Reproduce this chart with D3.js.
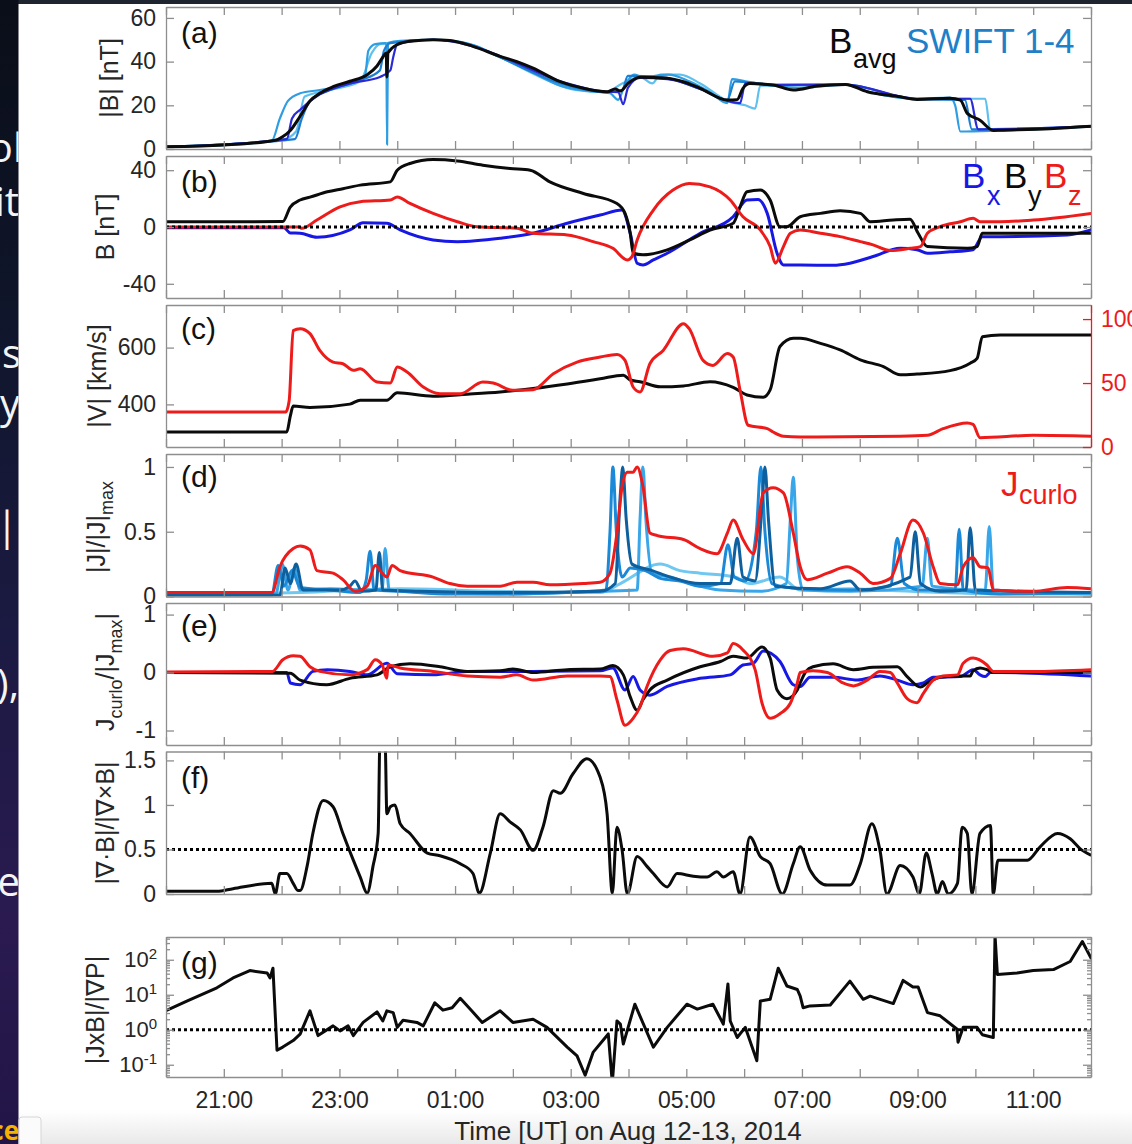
<!DOCTYPE html>
<html>
<head>
<meta charset="utf-8">
<script src="https://cdn.jsdelivr.net/npm/d3@7"></script>
<style>
  html, body { margin: 0; padding: 0; background: #fff; }
  svg { display: block; }
</style>
</head>
<body>
<svg id="chart" width="1132" height="1144"></svg>
<script>
// Time axis: hours after 20:00 UT on Aug 12, 2014 (0 ... 16  ->  20:00 ... 12:00 on Aug 13)

// ---------- (a) |B| [nT] ----------
const bAvg = [[0,1.0],[1.0,1.8],[1.89,4.0],[2.01,5.5],[2.15,8.5],[2.32,15],[2.49,22],[2.66,25.5],[2.89,28.5],[3.18,31],[3.48,34],[3.65,38],[3.75,42],[3.81,44],[3.82,33],[3.84,44],[4.0,47.8],[4.22,49.3],[4.62,50],[4.91,49.7],[5.31,47],[5.78,42.4],[6.07,40],[6.35,37],[6.82,30.8],[7.22,27.8],[7.63,26.2],[7.77,27.5],[7.86,26.5],[7.99,30],[8.2,32.9],[8.67,32.4],[8.95,30.8],[9.24,27.8],[9.71,22.4],[9.88,22.6],[9.98,27.8],[10.1,30],[10.5,29.3],[10.85,27],[11.26,28.8],[11.75,29.5],[12.13,26.2],[12.7,23.9],[12.99,22.7],[13.56,23.2],[13.74,22.4],[13.86,16.3],[14.08,13.2],[14.31,8.5],[14.43,8.6],[15.29,9.3],[16,10.4]];
const swiftB1 = [[0,1.0],[2.09,4.5],[2.18,14],[2.32,18],[2.66,25],[3.18,30],[3.7,33],[3.88,36],[3.93,42],[4.0,48],[4.62,50],[5.31,47],[5.78,42.5],[6.82,31],[7.63,26.2],[7.82,26],[7.91,20.5],[7.99,28],[8.2,32.5],[8.67,32],[9.24,27.5],[9.71,22],[9.93,21],[10.02,30],[10.5,29.3],[11.75,29.5],[12.99,23],[13.91,23],[14.05,9],[16,10.4]];
const swiftB2 = [[0,1.0],[2.23,4.5],[2.35,14],[2.49,22],[2.84,27],[3.36,31.5],[3.7,36],[3.77,45],[3.88,48.5],[4.62,50],[5.31,47.5],[5.78,42],[6.82,30],[7.63,26],[7.89,27],[7.99,33.5],[8.55,33],[9.24,27.5],[9.71,22.5],[9.84,31],[10.5,29.5],[11.75,29.5],[12.99,22.7],[13.82,22.5],[13.94,9],[16,10.4]];
const swiftB3 = [[0,1.0],[1.0,1.8],[1.83,3.8],[1.97,14],[2.11,22],[2.32,25.5],[2.66,27],[3.18,30],[3.44,33],[3.5,45],[3.62,48],[3.81,48.5],[3.824,2],[3.84,48.5],[4.05,49.5],[4.62,50],[5.09,49],[5.78,42],[6.35,35],[6.82,29],[7.34,26.5],[7.68,25.5],[7.82,22.5],[7.92,28],[8.1,34],[8.24,33],[8.69,34],[9.05,31],[9.41,26],[9.71,21],[9.79,32],[10.02,31],[10.5,29],[10.97,28],[11.75,29.5],[12.18,26],[12.99,23],[13.56,23.5],[13.65,20],[13.74,8],[14.43,8.5],[16,10.4]];
const swiftB4 = [[0,1.0],[2.01,4.2],[2.25,8],[2.4,24],[2.84,27],[3.36,31],[3.56,44],[3.7,48],[4.62,50],[5.26,48],[5.78,42],[6.47,33],[7.08,27],[7.6,26],[7.89,30],[8.2,33],[8.41,30],[8.55,34],[8.89,34],[9.24,30],[9.71,22],[10.02,20],[10.19,18.5],[10.28,29],[10.62,29],[11.75,29.5],[12.18,26],[12.99,23],[14.17,23],[14.26,8.5],[16,10.4]];

// ---------- (b) B components [nT] ----------
const bx = [[0,-0.5],[2.04,-0.5],[2.15,-4.2],[2.32,-4.4],[2.61,-7.2],[3.18,-2.1],[3.41,3],[3.82,2.6],[4.05,-2.1],[4.62,-9.1],[5.04,-10.3],[5.78,-7.9],[6.35,-4.4],[6.94,2.6],[7.51,8.4],[7.89,11.9],[8.03,-4.4],[8.15,-25.5],[8.25,-26.7],[8.43,-23.2],[8.67,-18.5],[9.24,-4.4],[9.81,7.2],[10.05,19],[10.24,19.4],[10.4,9.6],[10.57,-18.5],[10.68,-26.7],[10.97,-26.7],[11.54,-27],[11.83,-25.5],[12.23,-20.8],[12.7,-15],[12.99,-16],[13.17,-18.5],[13.56,-17.5],[13.96,-16],[14.12,-6.8],[14.43,-6.8],[15.59,-5.6],[16,-2.1]];
const by = [[0,3.7],[2.02,3.8],[2.15,14],[2.32,19],[2.49,21],[2.79,24.8],[3.06,27],[3.36,29.5],[3.88,31.8],[4.0,40],[4.22,44.7],[4.62,47.5],[5.04,46.5],[5.48,43.5],[5.95,41.2],[6.3,40],[6.64,31.8],[7.22,23.6],[7.8,16.6],[7.94,9.6],[8.03,-4.4],[8.08,-18.5],[8.25,-19.6],[8.67,-16.1],[9.06,-9.1],[9.41,-2.1],[9.81,2.6],[9.93,14.2],[10.05,24.8],[10.28,26],[10.45,19],[10.62,0.2],[10.74,0.2],[10.97,7.2],[11.32,9.6],[11.66,11.4],[12.01,9.6],[12.18,3.7],[12.58,4.9],[12.87,5.4],[13.01,-4.4],[13.17,-13.8],[13.86,-15],[14.03,-13.8],[14.12,-4.4],[14.43,-4.4],[16,-4.4]];
const bz = [[0,0],[2.3,0],[2.35,-0.9],[2.61,4.9],[3.01,14.2],[3.36,17.8],[3.88,19],[4.0,21.2],[4.22,16.6],[4.62,9.6],[5.04,3.7],[5.38,0.2],[6.07,-0.9],[6.35,-4.4],[6.94,-5.6],[7.39,-10.3],[7.73,-15],[7.98,-23.2],[8.06,-20.8],[8.15,-9.1],[8.43,11.9],[8.77,26],[9.05,30.7],[9.41,28.3],[9.76,19],[9.98,7.2],[10.28,-2.1],[10.45,-13.8],[10.54,-25.5],[10.68,-13.8],[10.8,-4.4],[10.97,-2.1],[11.32,-4.4],[11.66,-6.8],[12.01,-10.3],[12.23,-12.6],[12.53,-16.6],[12.87,-15],[13.05,-13.8],[13.17,-4.4],[13.39,0.2],[13.74,3.7],[13.96,6.1],[14.08,3.7],[14.43,3.7],[15.0,4.9],[16,9.6]];

// ---------- (c) |V| [km/s] (left) and red series on the right axis ----------
const speed = [[0,303],[2.09,303],[2.15,359],[2.2,394],[2.49,389],[3.18,401],[3.36,415],[3.82,415],[4.0,441],[4.62,429],[5.21,436],[5.78,444],[6.35,456],[6.94,472],[7.51,490],[7.91,503],[8.03,486],[8.2,480],[8.55,462],[8.95,465],[9.41,480],[9.81,460],[10.05,433],[10.33,425],[10.45,451],[10.62,604],[10.85,633],[10.97,633],[11.32,615],[11.66,592],[12.01,557],[12.41,533],[12.7,504],[12.99,507],[13.56,519],[13.91,545],[14.03,562],[14.12,638],[14.43,644],[16,644]];
const rightSeries = [[0,27.3],[2.07,27.3],[2.13,36],[2.2,91],[2.32,92.5],[2.49,88.6],[2.66,75.5],[2.89,66.4],[3.06,65.1],[3.24,59.9],[3.36,61.2],[3.65,50.8],[3.88,50],[4.0,62.5],[4.17,58.6],[4.45,46.9],[4.74,41.7],[5.09,41.7],[5.48,50.8],[5.66,50],[6.0,44.3],[6.35,44.8],[6.7,57.3],[7.11,66.4],[7.51,70.3],[7.8,72.4],[7.94,67.7],[8.08,46.9],[8.2,43],[8.37,65.1],[8.6,75.5],[8.95,96.4],[9.05,92.5],[9.29,67.7],[9.46,63.8],[9.71,73],[9.81,70.3],[9.93,44.3],[10.07,17],[10.4,14.3],[10.5,11.7],[10.68,8.4],[10.97,7.8],[12.7,8.4],[13.17,9.1],[13.44,14.3],[13.86,18.8],[13.96,17.7],[14.08,7.3],[15.0,9.1],[16,8.4]];

// ---------- (d) |J|/|J|max ----------
const jCurlo = [[0,0.03],[1.83,0.03],[1.97,0.23],[2.2,0.37],[2.32,0.39],[2.49,0.36],[2.61,0.2],[2.89,0.18],[3.06,0.13],[3.27,0.04],[3.48,0.08],[3.62,0.24],[3.74,0.18],[3.82,0.15],[3.91,0.24],[4.05,0.2],[4.62,0.15],[4.91,0.1],[5.21,0.08],[5.78,0.08],[6.07,0.11],[6.35,0.11],[6.64,0.09],[7.22,0.1],[7.51,0.11],[7.68,0.18],[7.8,0.49],[7.89,0.85],[7.98,0.96],[8.08,0.96],[8.15,1.0],[8.25,0.85],[8.37,0.49],[8.5,0.47],[8.95,0.44],[9.24,0.37],[9.53,0.33],[9.71,0.49],[9.81,0.59],[9.98,0.44],[10.16,0.33],[10.33,0.8],[10.5,0.84],[10.68,0.8],[10.85,0.49],[10.97,0.23],[11.09,0.13],[11.44,0.18],[11.78,0.23],[12.01,0.18],[12.23,0.1],[12.53,0.14],[12.7,0.33],[12.92,0.59],[13.1,0.49],[13.27,0.23],[13.39,0.1],[13.69,0.09],[13.79,0.23],[13.96,0.3],[14.08,0.23],[14.22,0.22],[14.31,0.05],[15.0,0.04],[15.59,0.07],[16,0.06]];
const jSwift1 = [[0,0.01],[1.83,0.01],[1.94,0.24],[2.04,0.08],[2.18,0.2],[2.32,0.07],[2.84,0.05],[3.36,0.03],[3.46,0.12],[3.53,0.35],[3.6,0.05],[4.05,0.04],[4.91,0.02],[5.78,0.02],[6.82,0.03],[7.61,0.05],[7.68,0.5],[7.73,1.0],[7.79,0.5],[7.89,0.15],[8.03,0.22],[8.29,0.2],[8.55,0.14],[8.89,0.12],[9.24,0.08],[9.59,0.1],[9.72,0.4],[9.83,0.15],[10.02,0.12],[10.21,0.5],[10.29,1.0],[10.36,0.5],[10.48,0.1],[10.97,0.06],[11.83,0.05],[12.53,0.08],[12.65,0.45],[12.77,0.1],[13.05,0.05],[13.65,0.05],[13.72,0.52],[13.79,0.05],[14.43,0.02],[16,0.03]];
const jSwift2 = [[0,0.01],[1.97,0.01],[2.06,0.22],[2.15,0.1],[2.25,0.25],[2.37,0.05],[3.01,0.05],[3.18,0.08],[3.27,0.12],[3.39,0.04],[3.63,0.05],[3.69,0.34],[3.75,0.05],[4.39,0.04],[5.78,0.03],[7.51,0.04],[7.77,0.1],[7.86,0.8],[7.9,1.0],[7.96,0.6],[8.06,0.25],[8.41,0.2],[8.72,0.15],[9.24,0.1],[9.76,0.1],[9.88,0.45],[9.98,0.15],[10.19,0.12],[10.31,0.7],[10.36,1.0],[10.42,0.6],[10.54,0.08],[11.32,0.06],[11.83,0.12],[12.01,0.05],[12.87,0.15],[12.96,0.5],[13.05,0.1],[13.39,0.04],[13.84,0.05],[13.91,0.53],[14.0,0.05],[16,0.03]];
const jSwift3 = [[0,0.01],[1.9,0.02],[2.01,0.25],[2.11,0.05],[2.22,0.22],[2.32,0.05],[2.84,0.06],[3.53,0.05],[3.74,0.06],[3.79,0.37],[3.86,0.05],[4.57,0.03],[6.13,0.02],[7.51,0.04],[8.15,0.05],[8.2,0.6],[8.25,1.0],[8.3,0.6],[8.41,0.18],[8.72,0.15],[9.07,0.1],[9.59,0.05],[10.28,0.04],[10.73,0.1],[10.8,0.6],[10.85,0.92],[10.92,0.3],[11.02,0.05],[11.83,0.04],[13.08,0.08],[13.17,0.45],[13.25,0.08],[14.17,0.05],[14.24,0.54],[14.31,0.05],[16,0.02]];
const jSwift4 = [[0,0.01],[2.32,0.03],[4.05,0.06],[5.78,0.04],[7.51,0.03],[7.86,0.1],[8.55,0.25],[8.89,0.2],[9.24,0.18],[9.84,0.15],[10.1,0.1],[10.62,0.15],[10.97,0.05],[11.83,0.06],[12.35,0.05],[14.43,0.02],[16,0.02]];

// ---------- (e) Jcurlo components / |Jmax| ----------
const jx = [[0,0],[2.09,0],[2.15,-0.18],[2.32,-0.21],[2.54,0.02],[2.79,0.05],[3.18,0.02],[3.48,-0.04],[3.82,0.16],[4.0,-0.02],[4.62,-0.04],[5.21,0.02],[6.35,0.02],[7.51,0.03],[7.73,0.08],[7.94,-0.3],[8.08,-0.07],[8.2,-0.3],[8.37,-0.39],[8.67,-0.24],[9.24,-0.1],[9.76,-0.04],[9.98,0.13],[10.16,0.16],[10.33,0.37],[10.62,0.19],[10.85,-0.21],[10.97,-0.24],[11.14,-0.08],[11.54,-0.08],[11.96,-0.13],[12.35,-0.06],[12.65,-0.13],[12.92,-0.21],[13.1,-0.18],[13.27,-0.08],[13.74,-0.07],[13.96,0.05],[14.08,-0.04],[14.17,-0.07],[14.26,0.0],[14.43,0.0],[16,-0.06]];
const jy = [[0,0],[2.15,-0.01],[2.32,-0.13],[2.78,-0.21],[3.18,-0.1],[3.65,-0.04],[3.88,0.1],[4.22,0.15],[4.74,0.1],[5.21,0.02],[5.78,0.03],[6.0,0.06],[6.35,0],[6.94,0.05],[7.51,0.06],[7.73,0.12],[7.91,-0.04],[8.03,-0.42],[8.15,-0.65],[8.25,-0.47],[8.37,-0.3],[8.67,-0.13],[9.24,0.1],[9.59,0.19],[9.81,0.28],[10.05,0.25],[10.31,0.44],[10.45,0.25],[10.57,-0.3],[10.74,-0.45],[10.92,-0.3],[10.97,-0.18],[11.07,0.02],[11.19,0.1],[11.54,0.15],[11.89,0.05],[12.23,0.09],[12.65,0.1],[12.82,-0.07],[13.05,-0.25],[13.17,-0.18],[13.39,-0.08],[13.74,-0.06],[13.91,-0.06],[13.96,0.03],[14.08,0.08],[14.2,0.05],[14.31,0],[16,0]];
const jz = [[0,0.01],[1.84,0.02],[2.02,0.22],[2.2,0.29],[2.32,0.28],[2.49,0.1],[2.66,0.02],[3.18,-0.04],[3.48,0.05],[3.62,0.22],[3.74,0.13],[3.82,-0.1],[3.84,0.13],[4.05,0.08],[4.62,0.02],[5.21,-0.06],[5.78,-0.08],[6.07,-0.04],[6.35,-0.13],[6.94,-0.06],[7.51,-0.06],[7.68,-0.07],[7.8,-0.47],[7.94,-0.91],[8.08,-0.79],[8.2,-0.59],[8.32,-0.24],[8.55,0.22],[8.72,0.38],[8.95,0.41],[9.46,0.28],[9.71,0.34],[9.81,0.5],[9.98,0.39],[10.19,0.05],[10.31,-0.53],[10.45,-0.79],[10.62,-0.71],[10.8,-0.53],[10.92,-0.18],[10.97,0],[11.19,0.03],[11.44,0],[11.71,-0.18],[11.89,-0.23],[12.13,-0.13],[12.35,0.02],[12.53,0],[12.65,-0.18],[12.82,-0.45],[12.99,-0.52],[13.1,-0.36],[13.27,-0.13],[13.44,-0.06],[13.69,-0.04],[13.79,0.16],[13.96,0.25],[14.2,0.13],[14.31,0.02],[15.0,0.02],[16,0.05]];

// ---------- (f) |div B| / |curl B| ----------
const divCurl = [[0,0.03],[0.88,0.03],[1.16,0.06],[1.83,0.12],[1.89,0],[1.97,0.23],[2.09,0.23],[2.2,0.12],[2.28,0.04],[2.32,0.04],[2.44,0.31],[2.54,0.68],[2.72,1.05],[2.89,0.98],[3.06,0.68],[3.24,0.38],[3.36,0.19],[3.48,0.01],[3.58,0.31],[3.67,0.68],[3.7,1.7],[3.79,1.7],[3.82,0.9],[3.88,0.98],[3.96,1.0],[4.05,0.79],[4.22,0.68],[4.52,0.46],[4.74,0.43],[5.09,0.34],[5.31,0.23],[5.42,0.01],[5.61,0.46],[5.78,0.9],[5.95,0.81],[6.13,0.72],[6.35,0.49],[6.52,0.75],[6.7,1.16],[6.82,1.13],[7.04,1.35],[7.28,1.52],[7.51,1.31],[7.63,0.9],[7.72,0.01],[7.8,0.75],[7.89,0.49],[7.98,0],[8.15,0.42],[8.32,0.31],[8.43,0.23],[8.67,0.08],[8.84,0.23],[9.12,0.2],[9.36,0.19],[9.53,0.25],[9.64,0.19],[9.81,0.25],[9.93,0],[10.1,0.64],[10.28,0.42],[10.45,0.34],[10.66,0],[10.85,0.34],[10.97,0.53],[11.14,0.27],[11.44,0.1],[11.83,0.1],[12.01,0.34],[12.21,0.79],[12.35,0.49],[12.47,0],[12.7,0.32],[12.92,0.19],[13.03,0],[13.15,0.46],[13.25,0.23],[13.34,0],[13.43,0.14],[13.53,0],[13.69,0.12],[13.77,0.75],[13.86,0.68],[13.94,0],[14.08,0.68],[14.26,0.77],[14.31,0],[14.39,0.38],[14.9,0.38],[15.12,0.53],[15.42,0.68],[15.64,0.62],[15.81,0.51],[15.99,0.44]];

// ---------- (g) |JxB| / |grad P| (log) ----------
const forceRatio = [[0,3.5],[0.36,6.6],[0.88,15.8],[1.16,30.2],[1.45,49],[1.75,41.7],[1.8,30.2],[1.85,57.5],[1.92,0.26],[2.02,0.32],[2.2,0.49],[2.32,0.75],[2.49,3.47],[2.63,0.68],[2.89,1.29],[3.01,0.93],[3.15,1.29],[3.24,0.68],[3.41,1.62],[3.65,3.24],[3.75,1.78],[3.82,3.47],[3.93,3.09],[4.0,1.17],[4.1,1.86],[4.34,1.62],[4.45,1.29],[4.65,5.9],[4.79,3.63],[4.95,4.27],[5.09,7.9],[5.26,3.89],[5.47,1.62],[5.78,3.47],[6.0,1.62],[6.35,2.0],[6.59,1.17],[6.94,0.32],[7.11,0.18],[7.25,0.05],[7.39,0.23],[7.65,0.76],[7.72,0.03],[7.8,1.78],[7.86,1.45],[7.91,0.39],[8.11,5.37],[8.43,0.32],[8.67,1.17],[9.01,5.37],[9.19,3.89],[9.46,5.37],[9.64,1.45],[9.72,20.4],[9.76,1.78],[9.88,0.6],[10.02,1.17],[10.22,0.13],[10.28,6.6],[10.45,7.4],[10.59,57.5],[10.74,17.8],[10.92,14.1],[10.97,9.1],[11.02,4.27],[11.14,4.8],[11.49,5.1],[11.83,24.5],[12.06,7.4],[12.18,9.1],[12.58,5.6],[12.75,25.7],[12.92,16.6],[13.01,16.6],[13.17,3.09],[13.39,2.5],[13.68,1.05],[13.7,0.44],[13.79,1.17],[14.03,1.17],[14.12,0.72],[14.31,0.6],[14.34,500],[14.38,38],[14.72,41.7],[15.0,49],[15.35,52.5],[15.64,89],[15.85,331],[16,112]];

// ---------- ticks ----------
const hourTicks = [0,1,2,3,4,5,6,7,8,9,10,11,12,13,14,15,16];
const timeLabelHours = [1,3,5,7,9,11,13,15];
const timeLabels = ["21:00","23:00","01:00","03:00","05:00","07:00","09:00","11:00"];
const ticksA = [0,20,40,60];
const ticksB = [-40,0,40];
const ticksC = [400,600];
const ticksCRight = [0,50,100];
const ticksD = [0,0.5,1];
const ticksE = [-1,0,1];
const ticksF = [0,0.5,1,1.5];
const ticksG = [0.1,1,10,100];

// ---------- styling ----------
const FONT = '"Liberation Sans", Arial, Helvetica, sans-serif';
const INK = '#262626';
const FRAME = '#8e8e8e';
const RED = '#ee1b1b';
const BLUE = '#1818e4';
const BLACK = '#0b0b0b';
const SWIFT_B_COLORS = ['#2a2ad6', '#1d7fd2', '#2e9de2', '#5fc0ee'];
const SWIFT_J_COLORS = ['#1a8ad8', '#0e5f9e', '#38a6e8', '#70c8f0'];

const svg = d3.select('#chart');
const defs = svg.append('defs');

// ---------- backdrop: slide edge on the left, window bars ----------
const grad = defs.append('linearGradient').attr('id', 'strip').attr('x1', 0).attr('y1', 0).attr('x2', 0).attr('y2', 1);
[[0, '#0a0e18'], [0.3, '#10162c'], [0.55, '#1b1a42'], [0.8, '#2a1a50'], [1, '#221546']]
  .forEach(([o, c]) => grad.append('stop').attr('offset', o).attr('stop-color', c));
const bottomGrad = defs.append('linearGradient').attr('id', 'footer').attr('x1', 0).attr('y1', 0).attr('x2', 0).attr('y2', 1);
[[0, '#ffffff'], [1, '#e9e9e9']].forEach(([o, c]) => bottomGrad.append('stop').attr('offset', o).attr('stop-color', c));

svg.append('rect').attr('x', 18.5).attr('y', 1110).attr('width', 1114).attr('height', 34).attr('fill', 'url(#footer)');
svg.append('rect').attr('x', 0).attr('y', 0).attr('width', 1132).attr('height', 4).attr('fill', '#1e2430');
svg.append('rect').attr('x', 0).attr('y', 0).attr('width', 18.5).attr('height', 1144).attr('fill', 'url(#strip)');
svg.append('rect').attr('x', 19).attr('y', 1117).attr('width', 22).attr('height', 30).attr('rx', 3)
  .attr('fill', '#fbfbfb').attr('stroke', '#d6d6d6');

defs.append('clipPath').attr('id', 'stripClip').append('rect').attr('x', 0).attr('y', 0).attr('width', 18.5).attr('height', 1144);
const stripText = svg.append('g').attr('clip-path', 'url(#stripClip)')
  .attr('font-family', '"Open Sans", "Noto Sans", sans-serif').attr('font-size', 40).attr('text-anchor', 'end');
[['ol', 23, 162], ['it', 19, 216], ['s', 21, 368], ['ty', 20, 418], ['J|', 18, 540], ['),', 19, 698], ['ce', 20, 896]]
  .forEach(([t, xx, yy]) => stripText.append('text').attr('x', xx).attr('y', yy).attr('fill', '#f4f4f4').text(t));
stripText.append('text').attr('x', 19).attr('y', 1140).attr('fill', '#f5b300').attr('font-weight', 'bold').attr('font-size', 26).text('ce');

// ---------- scales ----------
const X0 = 166, X1 = 1091;
const x = d3.scaleLinear().domain([0, 16]).range([X0, X1]);

const panels = {
  a: { top: 7,     bottom: 149,   y: d3.scaleLinear([0, 65], [149, 7]) },
  b: { top: 156,   bottom: 298,   y: d3.scaleLinear([-50, 50], [298, 156]) },
  c: { top: 305,   bottom: 447,   y: d3.scaleLinear([250, 750], [447, 305]), yR: d3.scaleLinear([0, 111], [447, 305]) },
  d: { top: 454,   bottom: 596.5, y: d3.scaleLinear([0, 1.1], [596.5, 454]) },
  e: { top: 603,   bottom: 745,   y: d3.scaleLinear([-1.25, 1.2], [745, 603]) },
  f: { top: 751.5, bottom: 894,   y: d3.scaleLinear([0, 1.6], [894, 751.5]) },
  g: { top: 937,   bottom: 1077,  y: d3.scaleLog([Math.pow(10, -1.35), Math.pow(10, 2.65)], [1077, 937]) }
};

Object.entries(panels).forEach(([k, p]) => {
  defs.append('clipPath').attr('id', 'clip-' + k)
    .append('rect').attr('x', X0).attr('y', p.top).attr('width', X1 - X0).attr('height', p.bottom - p.top);
  p.layer = svg.append('g').attr('clip-path', `url(#clip-${k})`);
});

function drawLine(p, data, color, width, curve, yScale) {
  const ys = yScale || p.y;
  const gen = d3.line().x(d => x(d[0])).y(d => ys(d[1])).curve(curve || d3.curveMonotoneX);
  p.layer.append('path').datum(data)
    .attr('d', gen).attr('fill', 'none').attr('stroke', color)
    .attr('stroke-width', width).attr('stroke-linejoin', 'round').attr('stroke-linecap', 'round');
}

function dotted(p, v) {
  p.layer.append('line').attr('x1', X0).attr('x2', X1).attr('y1', p.y(v)).attr('y2', p.y(v))
    .attr('stroke', '#000').attr('stroke-width', 3).attr('stroke-dasharray', '3,3');
}

// ---------- data ----------
const pa = panels.a;
[swiftB4, swiftB3, swiftB2, swiftB1].forEach((s, i) => drawLine(pa, s, SWIFT_B_COLORS[3 - i], 2.2));
drawLine(pa, bAvg, BLACK, 3);

const pb = panels.b;
drawLine(pb, bx, BLUE, 3);
drawLine(pb, by, BLACK, 3);
drawLine(pb, bz, RED, 3);
dotted(pb, 0);

const pc = panels.c;
drawLine(pc, speed, BLACK, 3);
drawLine(pc, rightSeries, RED, 3, null, pc.yR);

const pd = panels.d;
drawLine(pd, jSwift4, SWIFT_J_COLORS[3], 3);
drawLine(pd, jSwift3, SWIFT_J_COLORS[2], 3);
drawLine(pd, jSwift1, SWIFT_J_COLORS[0], 3);
drawLine(pd, jSwift2, SWIFT_J_COLORS[1], 3);
drawLine(pd, jCurlo, RED, 3);

const pe = panels.e;
drawLine(pe, jx, BLUE, 3);
drawLine(pe, jy, BLACK, 3);
drawLine(pe, jz, RED, 3);

const pf = panels.f;
drawLine(pf, divCurl, BLACK, 3);
dotted(pf, 0.5);

const pg = panels.g;
drawLine(pg, forceRatio, BLACK, 3, d3.curveLinear);
dotted(pg, 1);

// ---------- axes ----------
const none = () => '';
function styleAxis(g, color) {
  g.selectAll('.domain, .tick line').attr('stroke', color || FRAME).attr('stroke-width', 1.3);
  g.selectAll('.tick text').attr('fill', color || INK).attr('font-size', 23).attr('font-family', FONT);
}

function axes(p, yTicks, opts = {}) {
  const g = svg.append('g');
  g.append('g').attr('transform', `translate(0,${p.top})`)
    .call(d3.axisTop(x).tickValues(hourTicks).tickSizeInner(-8).tickSizeOuter(0).tickFormat(none));
  g.append('g').attr('transform', `translate(0,${p.bottom})`)
    .call(d3.axisBottom(x).tickValues(hourTicks).tickSizeInner(-8).tickSizeOuter(0).tickPadding(15)
      .tickFormat(opts.timeLabels ? (t => { const i = timeLabelHours.indexOf(t); return i >= 0 ? timeLabels[i] : ''; }) : none));
  const left = g.append('g').attr('transform', `translate(${X0},0)`)
    .call(d3.axisLeft(p.y).tickValues(yTicks).tickSizeInner(-8).tickSizeOuter(0).tickPadding(10).tickFormat(opts.fmt || (d => String(d))));
  if (opts.right !== false) {
    g.append('g').attr('transform', `translate(${X1},0)`)
      .call(d3.axisRight(p.y).tickValues(yTicks).tickSizeInner(-8).tickSizeOuter(0).tickFormat(none));
  }
  styleAxis(g);
  return { g, left };
}

axes(pa, ticksA);
axes(pb, ticksB);
axes(pc, ticksC, { right: false });
const redAxis = svg.append('g').attr('transform', `translate(${X1},0)`)
  .call(d3.axisRight(pc.yR).tickValues(ticksCRight).tickSizeInner(-8).tickSizeOuter(0).tickPadding(10));
styleAxis(redAxis, RED);
axes(pd, ticksD);
axes(pe, ticksE);
axes(pf, ticksF);
const gAx = axes(pg, ticksG, { timeLabels: true, fmt: () => '10' });
gAx.left.selectAll('.tick text').each(function (d) {
  const t = d3.select(this);
  t.text(null).attr('font-size', 22).attr('x', -9);
  t.append('tspan').text('10');
  t.append('tspan').attr('dy', '-0.55em').attr('font-size', 15).text(String(Math.round(Math.log10(d))));
});

// minor log ticks for (g)
const [lo, hi] = pg.y.domain();
const minorG = [];
for (let e = -2; e <= 2; e++) for (let m = 2; m <= 9; m++) {
  const v = m * Math.pow(10, e);
  if (v > lo && v < hi) minorG.push(v);
}
[[d3.axisLeft, X0], [d3.axisRight, X1]].forEach(([ax, pos]) => {
  const mg = svg.append('g').attr('transform', `translate(${pos},0)`)
    .call(ax(pg.y).tickValues(minorG).tickSizeInner(-4).tickSizeOuter(0).tickFormat(none));
  mg.select('.domain').remove();
  styleAxis(mg);
});

// ---------- panel tags ----------
[['a', 43], ['b', 192], ['c', 339], ['d', 487], ['e', 636], ['f', 788], ['g', 973]].forEach(([k, yy]) => {
  svg.append('text').attr('x', 181).attr('y', yy).attr('font-family', FONT).attr('font-size', 30)
    .attr('fill', '#111').text(`(${k})`);
});

// ---------- y-axis titles ----------
function yTitle(xPos, yPos, parts) {
  const t = svg.append('text').attr('transform', `translate(${xPos},${yPos}) rotate(-90)`)
    .attr('text-anchor', 'middle').attr('font-family', FONT).attr('font-size', 25).attr('fill', INK);
  let shifted = 0;
  parts.forEach(part => {
    const s = t.append('tspan').text(part.t);
    if (part.sub) { s.attr('font-size', 18).attr('dy', 8 - shifted); shifted = 8; }
    else if (shifted) { s.attr('dy', -shifted); shifted = 0; }
  });
}
yTitle(118, 78,   [{ t: '|B| [nT]' }]);
yTitle(114, 227,  [{ t: 'B [nT]' }]);
yTitle(106, 376,  [{ t: '|V| [km/s]' }]);
yTitle(105, 527,  [{ t: '|J|/|J|' }, { t: 'max', sub: true }]);
yTitle(114, 672,  [{ t: 'J' }, { t: 'curlo', sub: true }, { t: '/|J' }, { t: 'max', sub: true }, { t: '|' }]);
yTitle(114, 823,  [{ t: '|\u2207\u00B7B|/|\u2207\u00D7B|' }]);
yTitle(104, 1010, [{ t: '|JxB|/|\u2207P|' }]);

// ---------- in-panel legends ----------
function label(xx, yy, txt, color, size) {
  svg.append('text').attr('x', xx).attr('y', yy).attr('font-family', FONT).attr('font-size', size)
    .attr('fill', color).text(txt);
}
label(829, 53, 'B', BLACK, 35);
label(853, 68, 'avg', BLACK, 27);
label(906, 53, 'SWIFT 1-4', '#1f80c8', 35);

label(962, 188, 'B', BLUE, 35);
label(987, 205, 'x', BLUE, 27);
label(1004, 188, 'B', BLACK, 35);
label(1028, 205, 'y', BLACK, 27);
label(1044, 188, 'B', RED, 35);
label(1068, 205, 'z', RED, 27);

label(1001, 496, 'J', RED, 35);
label(1019, 504, 'curlo', RED, 27);

// ---------- x-axis title ----------
svg.append('text').attr('x', 628).attr('y', 1140).attr('text-anchor', 'middle')
  .attr('font-family', FONT).attr('font-size', 26).attr('fill', INK)
  .text('Time [UT] on Aug 12-13, 2014');
</script>
</body>
</html>
